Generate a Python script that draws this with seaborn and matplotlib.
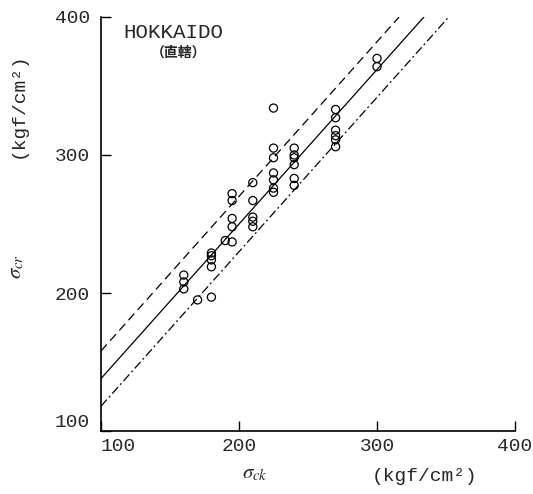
import matplotlib
matplotlib.use("Agg")
import matplotlib.pyplot as plt
import seaborn as sns
import pandas as pd

# Data (kgf/cm2)
sigma_ck = [160, 160, 160, 170, 180, 180, 180, 180, 180, 190,
            195, 195, 195, 195, 195, 210, 210, 210, 210, 210,
            225, 225, 225, 225, 225, 225, 225,
            240, 240, 240, 240, 240, 240,
            270, 270, 270, 270, 270, 270, 300, 300]
sigma_cr = [213, 208, 203, 195, 229, 227, 224, 219, 197, 238,
            272, 267, 254, 248, 237, 280, 267, 255, 252, 248,
            334, 305, 298, 287, 282, 276, 273,
            305, 300, 298, 293, 283, 278,
            333, 327, 318, 314, 311, 306, 370, 364]

# Lines (end points)
upper_ck = [100, 316]
upper_cr = [158, 400]
mean_ck = [100, 334]
mean_cr = [138, 400]
lower_ck = [100, 352]
lower_cr = [118, 400]

ticks = [100, 200, 300, 400]

sns.set_style("ticks")
plt.rcParams["font.family"] = ["Liberation Mono", "DejaVu Sans"]
plt.rcParams["mathtext.fontset"] = "stix"

W, H = 533, 494
fig = plt.figure(figsize=(W / 100, H / 100), dpi=100)
ax = fig.add_axes([101 / W, 1 - 431 / H, 414 / W, 414 / H])

df = pd.DataFrame({"ck": sigma_ck, "cr": sigma_cr})

# Lines
sns.lineplot(x=upper_ck, y=upper_cr, color="black", linewidth=0.9, ax=ax)
ax.get_lines()[-1].set_dashes([7, 4])
sns.lineplot(x=mean_ck, y=mean_cr, color="black", linewidth=0.9, ax=ax)
sns.lineplot(x=lower_ck, y=lower_cr, color="black", linewidth=0.9, ax=ax)
ax.get_lines()[-1].set_dashes([7, 2.5, 1.5, 2.5])

# Points
sns.scatterplot(data=df, x="ck", y="cr", marker="o", s=34,
                facecolor="none", edgecolor="black", linewidth=0.9, ax=ax, zorder=3)

ax.set_xlim(100, 400)
ax.set_ylim(100, 400)
ax.set_xticks(ticks)
ax.set_yticks(ticks)
ax.set_xticklabels([str(t) for t in ticks], fontsize=14)
ax.set_yticklabels([str(t) for t in ticks], fontsize=14)
ax.tick_params(direction="in", length=7, width=1, color="black")
ax.tick_params(axis="x", pad=5)
ax.tick_params(axis="y", pad=8)
ax.get_xticklabels()[0].set_ha("left")
ax.get_yticklabels()[0].set_va("bottom")
ax.set_xlabel("")
ax.set_ylabel("")
sns.despine(ax=ax)
for s in ["left", "bottom"]:
    ax.spines[s].set_linewidth(1.2)
    ax.spines[s].set_color("black")

# Labels
fig.text(123 / W, 1 - 33 / H, "HOKKAIDO", fontsize=15, va="center", ha="left")
fig.text(179 / W, 1 - 53 / H, "（直轄）", fontsize=10, va="center", ha="center",
         family=["Noto Sans CJK JP", "DejaVu Sans"], fontweight="bold")

fig.text(17 / W, 1 - 267 / H, r"$\sigma_{cr}$", fontsize=15, rotation=90,
         va="center", ha="center")
fig.text(18 / W, 1 - 105 / H, "(kgf/cm²)", fontsize=14, rotation=90,
         va="center", ha="center")
fig.text(255 / W, 1 - 473 / H, r"$\sigma_{ck}$", fontsize=15,
         va="center", ha="center")
fig.text(425 / W, 1 - 476 / H, "(kgf/cm²)", fontsize=14,
         va="center", ha="center")

fig.savefig("out.png", dpi=100, facecolor="white")
